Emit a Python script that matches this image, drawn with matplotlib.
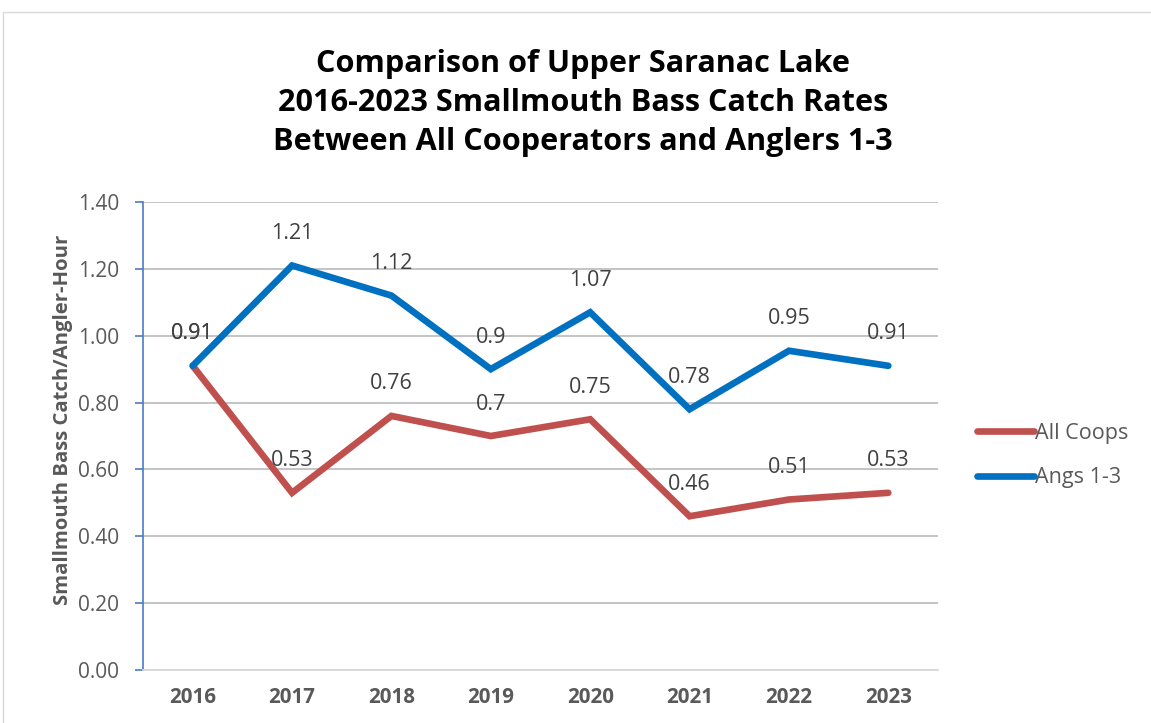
import matplotlib
matplotlib.use("Agg")
import matplotlib.pyplot as plt
from matplotlib.patches import Rectangle

years = ["2016", "2017", "2018", "2019", "2020", "2021", "2022", "2023"]
all_coops = [0.91, 0.53, 0.76, 0.70, 0.75, 0.46, 0.51, 0.53]
angs_1_3 = [0.91, 1.21, 1.12, 0.90, 1.07, 0.78, 0.955, 0.91]
angs_labels = ["0.91", "1.21", "1.12", "0.9", "1.07", "0.78", "0.95", "0.91"]
coops_labels = ["0.91", "0.53", "0.76", "0.7", "0.75", "0.46", "0.51", "0.53"]
y_ticks = [0.0, 0.2, 0.4, 0.6, 0.8, 1.0, 1.2, 1.4]

FONT = ["Open Sans", "DejaVu Sans"]
plt.rcParams["font.family"] = FONT

fig = plt.figure(figsize=(11.51, 7.23), dpi=100)
fig.patches.append(Rectangle((3 / 1151, -0.1), 1.2, 1 - 12 / 723 + 0.1,
                             transform=fig.transFigure, fill=False,
                             edgecolor="#D9D9D9", linewidth=1.0))

ax = fig.add_axes([143 / 1151, 53 / 723, (938 - 143) / 1151, (670 - 202) / 723])
x = list(range(len(years)))

red = "#C0504D"
blue = "#0070C0"
ax.plot(x, all_coops, color=red, linewidth=4.8, solid_capstyle="round",
        solid_joinstyle="miter", label="All Coops", zorder=3)
ax.plot(x, angs_1_3, color=blue, linewidth=4.8, solid_capstyle="round",
        solid_joinstyle="miter", label="Angs 1-3", zorder=4)

for xi, v, s in zip(x, all_coops, coops_labels):
    ax.annotate(s, (xi, v), xytext=(0, 23), textcoords="offset points",
                ha="center", va="center", fontsize=15.5, color="#404040", zorder=5)
for xi, v, s in zip(x, angs_1_3, angs_labels):
    ax.annotate(s, (xi, v), xytext=(0, 23), textcoords="offset points",
                ha="center", va="center", fontsize=15.5, color="#404040", zorder=5)

ax.set_xlim(-0.5, 7.5)
ax.set_ylim(0, 1.4)
ax.set_yticks(y_ticks)
ax.set_yticklabels([f"{t:.2f}" for t in y_ticks], fontsize=15, color="#595959")
ax.set_xticks(x)
ax.set_xticklabels(years, fontsize=14.8, fontweight="bold", color="#595959")
ax.tick_params(axis="x", length=0, pad=12)
ax.tick_params(axis="y", length=6, width=1.2, color="#4A7BC8", direction="out", pad=11)

ax.grid(axis="y", color="#BFBFBF", linewidth=1.3, zorder=0)
ax.set_axisbelow(True)
for side in ["top", "right"]:
    ax.spines[side].set_visible(False)
ax.spines["left"].set_color("#4A7BC8")
ax.spines["left"].set_linewidth(1.2)
ax.spines["bottom"].set_color("#D9D9D9")
ax.spines["bottom"].set_linewidth(1.3)

ax.set_ylabel("Smallmouth Bass Catch/Angler-Hour", fontsize=14.6, fontweight="bold",
              color="#595959")
ax.yaxis.set_label_coords(-0.088, 0.535)

fig.text(583 / 1151, 1 - 103 / 723,
         "Comparison of Upper Saranac Lake\n2016-2023 Smallmouth Bass Catch Rates\nBetween All Cooperators and Anglers 1-3",
         ha="center", va="center", fontsize=22.1, fontweight="bold", color="black",
         linespacing=1.38)

leg = ax.legend(loc="center left", bbox_to_anchor=(1.035, 0.458), frameon=False,
                fontsize=15.5, handlelength=2.65, handletextpad=0.08, labelspacing=1.08,
                labelcolor="#595959", borderpad=0)

fig.savefig("out.png", dpi=100)
